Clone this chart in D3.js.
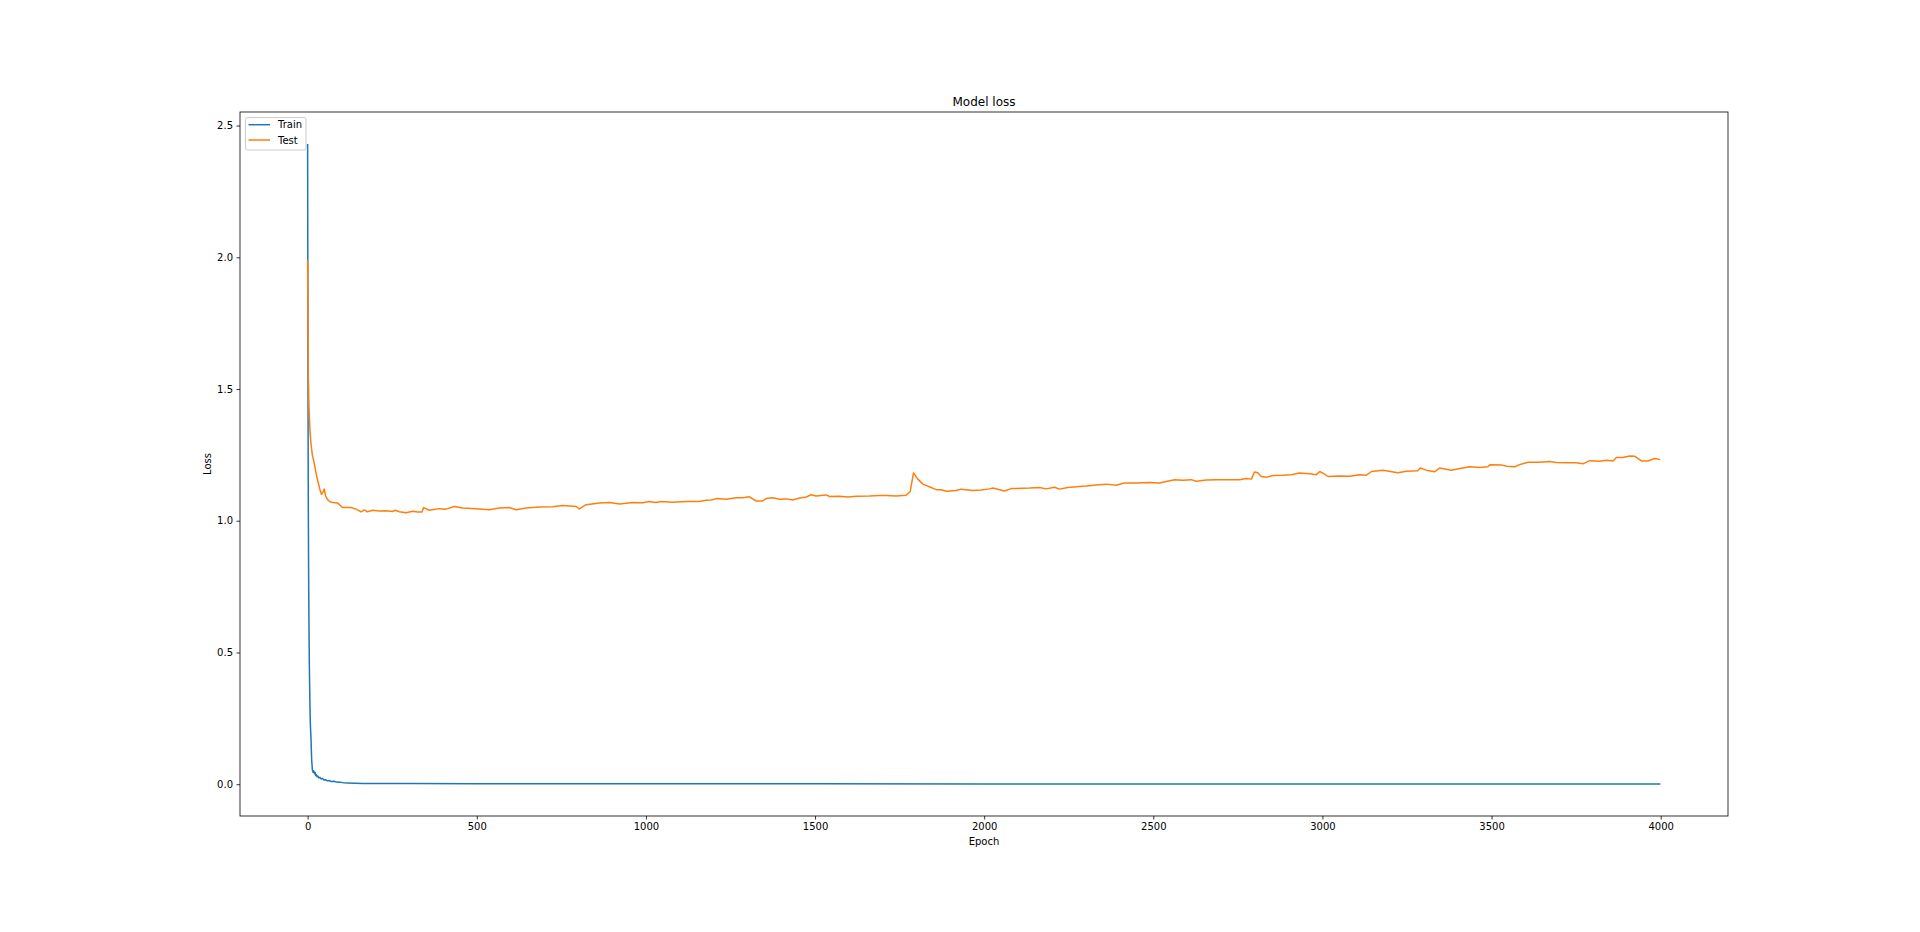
<!DOCTYPE html>
<html lang="en">
    <head>
        <meta charset="utf-8">
        <title>Model loss</title>
        <script src="https://cdn.jsdelivr.net/npm/d3@7"></script>
        <style>
            body { margin: 0; background: #fff; }
            text { font-family: "DejaVu Sans", sans-serif; fill: #000; }
        </style>
    </head>
    <body>
        <script>

		// values
		var trainEpochs = [0, 1, 2, 3, 4, 5, 6, 7, 8, 10, 12, 14, 16, 18, 20, 22, 24, 26, 28, 30, 33, 36, 40, 44, 48, 53, 58, 64, 70, 78, 86, 95, 105, 120, 140, 163, 200, 300, 500, 1000, 1500, 2000, 2500, 3000, 3500, 3999];
		var trainLoss = [2.43, 1.55, 1.05, 0.78, 0.6, 0.46, 0.37, 0.29, 0.23, 0.17, 0.09, 0.055, 0.045, 0.05, 0.04, 0.045, 0.033, 0.036, 0.028, 0.031, 0.024, 0.026, 0.02, 0.022, 0.016, 0.017, 0.013, 0.014, 0.010, 0.011, 0.008, 0.0075, 0.006, 0.005, 0.004, 0.003, 0.0028, 0.0025, 0.002, 0.0016, 0.0014, 0.0012, 0.0011, 0.001, 0.0009, 0.0008];

		var testEpochs = [0, 1, 2, 4, 7, 10, 14, 20, 25, 30, 36, 41, 45, 49, 53, 59, 66, 74, 89, 103, 128, 143, 158, 168, 177, 192, 212, 232, 251, 259, 271, 291, 310, 325, 338, 343, 360, 389, 409, 434, 458, 498, 537, 567, 596, 616, 646, 685, 724, 754, 794, 803, 823, 863, 892, 922, 961, 991, 1010, 1030, 1045, 1079, 1119, 1158, 1178, 1193, 1208, 1237, 1267, 1286, 1306, 1326, 1345, 1355, 1375, 1395, 1415, 1434, 1454, 1474, 1489, 1503, 1533, 1543, 1572, 1597, 1622, 1661, 1690, 1710, 1740, 1769, 1781, 1791, 1804, 1819, 1838, 1858, 1873, 1888, 1917, 1932, 1966, 1990, 2016, 2026, 2060, 2080, 2134, 2164, 2183, 2208, 2223, 2247, 2272, 2302, 2331, 2361, 2390, 2415, 2450, 2489, 2519, 2538, 2563, 2587, 2612, 2627, 2657, 2686, 2716, 2755, 2775, 2790, 2799, 2809, 2819, 2834, 2854, 2883, 2908, 2932, 2962, 2982, 2992, 3005, 3016, 3051, 3080, 3110, 3130, 3145, 3179, 3223, 3248, 3282, 3289, 3307, 3332, 3346, 3381, 3406, 3435, 3465, 3489, 3496, 3529, 3544, 3569, 3583, 3608, 3642, 3672, 3691, 3721, 3750, 3770, 3790, 3820, 3839, 3859, 3869, 3888, 3908, 3923, 3943, 3962, 3982, 3999];
		var testLoss = [1.99, 1.75, 1.55, 1.43, 1.34, 1.29, 1.25, 1.215, 1.18, 1.151, 1.12, 1.10, 1.108, 1.12, 1.095, 1.08, 1.072, 1.069, 1.067, 1.050, 1.050, 1.044, 1.034, 1.041, 1.034, 1.040, 1.037, 1.038, 1.035, 1.040, 1.034, 1.030, 1.036, 1.033, 1.033, 1.050, 1.040, 1.046, 1.044, 1.054, 1.048, 1.046, 1.042, 1.048, 1.050, 1.042, 1.048, 1.052, 1.053, 1.058, 1.054, 1.045, 1.061, 1.067, 1.069, 1.064, 1.069, 1.068, 1.073, 1.069, 1.073, 1.070, 1.073, 1.073, 1.078, 1.079, 1.084, 1.082, 1.087, 1.087, 1.091, 1.075, 1.075, 1.084, 1.087, 1.082, 1.083, 1.079, 1.086, 1.090, 1.099, 1.094, 1.098, 1.092, 1.093, 1.090, 1.093, 1.094, 1.096, 1.096, 1.094, 1.097, 1.110, 1.181, 1.158, 1.139, 1.129, 1.118, 1.118, 1.112, 1.115, 1.120, 1.115, 1.117, 1.121, 1.124, 1.113, 1.122, 1.124, 1.126, 1.121, 1.127, 1.120, 1.126, 1.129, 1.132, 1.136, 1.139, 1.135, 1.143, 1.143, 1.145, 1.143, 1.149, 1.156, 1.154, 1.156, 1.150, 1.155, 1.156, 1.156, 1.156, 1.160, 1.158, 1.185, 1.182, 1.168, 1.165, 1.172, 1.173, 1.175, 1.181, 1.178, 1.175, 1.187, 1.178, 1.168, 1.170, 1.169, 1.175, 1.173, 1.187, 1.192, 1.182, 1.188, 1.190, 1.200, 1.192, 1.186, 1.200, 1.192, 1.198, 1.205, 1.202, 1.205, 1.213, 1.212, 1.207, 1.205, 1.213, 1.222, 1.222, 1.225, 1.221, 1.220, 1.220, 1.216, 1.228, 1.226, 1.230, 1.227, 1.240, 1.240, 1.246, 1.245, 1.227, 1.227, 1.236, 1.232];

		var xTicks = [0, 500, 1000, 1500, 2000, 2500, 3000, 3500, 4000];
		var yTicks = [0.0, 0.5, 1.0, 1.5, 2.0, 2.5];

		var series = [
			{name: "Train", epochs: trainEpochs, loss: trainLoss, color: "#1f77b4"},
			{name: "Test", epochs: testEpochs, loss: testLoss, color: "#ff7f0e"}
		];

		var W = 1920, H = 932;
		// axes box (window.top is reserved, so prefix these)
		var axLeft = 240, axRight = 1728, axTop = 112, axBottom = 816;

		var svg = d3.select("body").append("svg")
			.attr("width", W)
			.attr("height", H);

		// 5% margins like matplotlib autoscale
		var allX = trainEpochs.concat(testEpochs);
		var allY = trainLoss.concat(testLoss);
		var xMin = d3.min(allX), xMax = d3.max(allX);
		var yMin = d3.min(allY), yMax = d3.max(allY);
		var xPad = (xMax - xMin) * 0.05, yPad = (yMax - yMin) * 0.05;

		var x = d3.scaleLinear().domain([xMin - xPad, xMax + xPad]).range([axLeft, axRight]);
		var y = d3.scaleLinear().domain([yMin - yPad, yMax + yPad]).range([axBottom, axTop]);

		// clip
		svg.append("clipPath").attr("id", "clip")
			.append("rect")
				.attr("x", axLeft).attr("y", axTop)
				.attr("width", axRight - axLeft).attr("height", axBottom - axTop);

		var line = d3.line()
			.x(function(d) {return x(d[0]);})
			.y(function(d) {return y(d[1]);});

		svg.append("g").attr("clip-path", "url(#clip)")
			.selectAll("path")
			.data(series)
			.enter()
			.append("path")
				.attr("d", function(s) {return line(d3.zip(s.epochs, s.loss));})
				.attr("fill", "none")
				.attr("stroke", function(s) {return s.color;})
				.attr("stroke-width", 1.5)
				.attr("stroke-linejoin", "round");

		// axes
		var xAxis = d3.axisBottom(x).tickValues(xTicks).tickSize(3.5).tickPadding(3.5).tickFormat(d3.format("d"));
		var yAxis = d3.axisLeft(y).tickValues(yTicks).tickSize(3.5).tickPadding(3.5).tickFormat(d3.format(".1f"));

		var gx = svg.append("g").attr("transform", "translate(0," + axBottom + ")").call(xAxis);
		var gy = svg.append("g").attr("transform", "translate(" + axLeft + ",0)").call(yAxis);

		[gx, gy].forEach(function(g) {
			g.select(".domain").remove();
			g.selectAll(".tick line").attr("stroke", "#000").attr("stroke-width", 0.8);
			g.selectAll(".tick text").attr("font-size", "10px").attr("font-family", "DejaVu Sans").attr("fill", "#000");
		});

		// frame
		svg.append("rect")
			.attr("x", axLeft).attr("y", axTop)
			.attr("width", axRight - axLeft).attr("height", axBottom - axTop)
			.attr("fill", "none")
			.attr("stroke", "#000")
			.attr("stroke-width", 0.8);

		// titles
		svg.append("text")
			.attr("x", (axLeft + axRight) / 2)
			.attr("y", axTop - 6)
			.attr("text-anchor", "middle")
			.attr("font-size", "12px")
			.text("Model loss");

		svg.append("text")
			.attr("x", (axLeft + axRight) / 2)
			.attr("y", 837)
			.attr("dy", "0.76em")
			.attr("text-anchor", "middle")
			.attr("font-size", "10px")
			.text("Epoch");

		svg.append("text")
			.attr("transform", "translate(210.5," + (axTop + axBottom) / 2 + ") rotate(-90)")
			.attr("text-anchor", "middle")
			.attr("font-size", "10px")
			.text("Loss");

		// legend
		var legend = svg.append("g").attr("transform", "translate(245.5,117.5)");

		legend.append("rect")
			.attr("width", 60.5)
			.attr("height", 32.5)
			.attr("rx", 2)
			.attr("fill", "#fff")
			.attr("fill-opacity", 0.8)
			.attr("stroke", "#ccc")
			.attr("stroke-width", 1);

		var items = legend.selectAll(".item")
			.data(series)
			.enter()
			.append("g")
				.attr("class", "item")
				.attr("transform", function(d, i) {return "translate(0," + (7.2 + i * 15.3) + ")";});

		items.append("line")
			.attr("x1", 3).attr("x2", 24.5)
			.attr("stroke", function(d) {return d.color;})
			.attr("stroke-width", 1.5);

		items.append("text")
			.attr("x", 32.5)
			.attr("dy", "0.36em")
			.attr("font-size", "10px")
			.text(function(d) {return d.name;});

        </script>
    </body>
</html>
